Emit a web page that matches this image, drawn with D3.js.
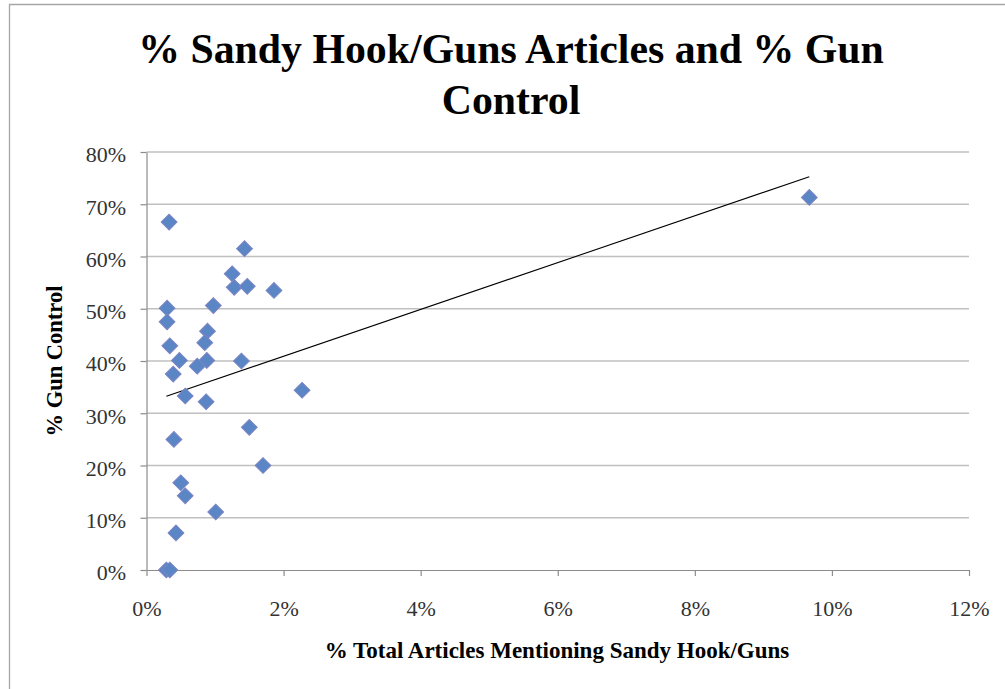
<!DOCTYPE html>
<html>
<head>
<meta charset="utf-8">
<script src="https://cdn.jsdelivr.net/npm/d3@7"></script>
<style>
  html, body { margin: 0; padding: 0; background: #fff; }
  svg { display: block; }
</style>
</head>
<body>
<svg id="chart" width="1005" height="689"></svg>
<script>
// Titles
const chartTitle = ["% Sandy Hook/Guns Articles and % Gun", "Control"];
const xAxisTitle = "% Total Articles Mentioning Sandy Hook/Guns";
const yAxisTitle = "% Gun Control";

// Tick values (percent)
const xTicks = [0, 2, 4, 6, 8, 10, 12];
const yTicks = [0, 10, 20, 30, 40, 50, 60, 70, 80];

// One entry per outlet: share of all articles mentioning Sandy Hook / guns (%)
const articleShare = [
  9.67, 0.33, 1.43, 1.25, 1.28, 1.47, 1.86, 0.975, 0.30, 0.30,
  0.89, 0.85, 0.34, 0.48, 0.88, 1.385, 0.74, 0.39, 0.565, 0.87,
  2.27, 1.50, 0.40, 1.70, 0.50, 0.565, 1.01, 0.43, 0.29, 0.34
];
// ...and share of those articles favouring gun control (%)
const gunControlShare = [
  71.3, 66.6, 61.5, 56.7, 54.1, 54.3, 53.5, 50.6, 50.1, 47.5,
  45.7, 43.5, 42.9, 40.1, 40.1, 40.0, 39.0, 37.5, 33.3, 32.2,
  34.4, 27.3, 25.0, 20.0, 16.7, 14.2, 11.1, 7.1, 0.0, 0.0
];

const serif = "'Liberation Serif', 'Times New Roman', Times, serif";
const svg = d3.select("#chart");

// Outer chart frame
svg.append("path")
  .attr("d", "M9.5,689 V4.5 H1005")
  .attr("fill", "none")
  .attr("stroke", "#a6a6a6")
  .attr("stroke-width", 1.3);

const x = d3.scaleLinear().domain([0, 12]).range([146.5, 969]);
const y = d3.scaleLinear().domain([0, 80]).range([570, 152]);

// Horizontal gridlines
svg.append("g")
  .selectAll("line")
  .data(yTicks.filter(d => d > 0))
  .join("line")
  .attr("x1", x(0)).attr("x2", x(12))
  .attr("y1", d => y(d)).attr("y2", d => y(d))
  .attr("stroke", "#c0c0c0")
  .attr("stroke-width", 1.4);

// Axes
const yAxis = svg.append("g")
  .attr("transform", `translate(${x(0)},0)`)
  .call(d3.axisLeft(y).tickValues(yTicks).tickSize(6).tickSizeOuter(0)
    .tickPadding(14.5).tickFormat(d => d + "%"));

const xAxis = svg.append("g")
  .attr("transform", `translate(0,${y(0)})`)
  .call(d3.axisBottom(x).tickValues(xTicks).tickSize(6).tickSizeOuter(0)
    .tickPadding(24.5).tickFormat(d => d + "%"));

[yAxis, xAxis].forEach(g => {
  g.select(".domain").attr("stroke", "#8c8c8c").attr("stroke-width", 1.2);
  g.selectAll(".tick line").attr("stroke", "#8c8c8c").attr("stroke-width", 1.2);
  g.selectAll(".tick text")
    .attr("fill", "#333")
    .style("font-family", serif)
    .style("font-size", "22px");
});
yAxis.selectAll(".tick text").attr("dy", "0.45em");

// Linear trendline (least squares) across the data range
const n = articleShare.length;
const mx = d3.mean(articleShare);
const my = d3.mean(gunControlShare);
let sxy = 0, sxx = 0;
for (let i = 0; i < n; i++) {
  sxy += (articleShare[i] - mx) * (gunControlShare[i] - my);
  sxx += (articleShare[i] - mx) ** 2;
}
const slope = sxy / sxx;
const intercept = my - slope * mx;
const [xmin, xmax] = d3.extent(articleShare);
svg.append("line")
  .attr("x1", x(xmin)).attr("y1", y(intercept + slope * xmin))
  .attr("x2", x(xmax)).attr("y2", y(intercept + slope * xmax))
  .attr("stroke", "#000")
  .attr("stroke-width", 1.1);

// Diamond markers
const diamond = d3.symbol(d3.symbolSquare, 125);
svg.append("g")
  .selectAll("path")
  .data(d3.range(n))
  .join("path")
  .attr("d", diamond)
  .attr("transform", i => `translate(${x(articleShare[i])},${y(gunControlShare[i])}) rotate(45)`)
  .attr("fill", "#5a86c5")
  .attr("stroke", "#7d84c4")
  .attr("stroke-width", 1);

// Chart title
svg.append("text")
  .attr("text-anchor", "middle")
  .style("font-family", serif)
  .style("font-size", "41.8px")
  .style("font-weight", "bold")
  .selectAll("tspan")
  .data(chartTitle)
  .join("tspan")
  .attr("x", 511)
  .attr("y", (d, i) => 63 + i * 51)
  .text(d => d);

// Axis titles
svg.append("text")
  .attr("x", 557).attr("y", 658)
  .attr("text-anchor", "middle")
  .style("font-family", serif)
  .style("font-size", "23px")
  .style("font-weight", "bold")
  .text(xAxisTitle);

svg.append("text")
  .attr("transform", "translate(62,361) rotate(-90)")
  .attr("text-anchor", "middle")
  .style("font-family", serif)
  .style("font-size", "22.5px")
  .style("font-weight", "bold")
  .text(yAxisTitle);
</script>
</body>
</html>
